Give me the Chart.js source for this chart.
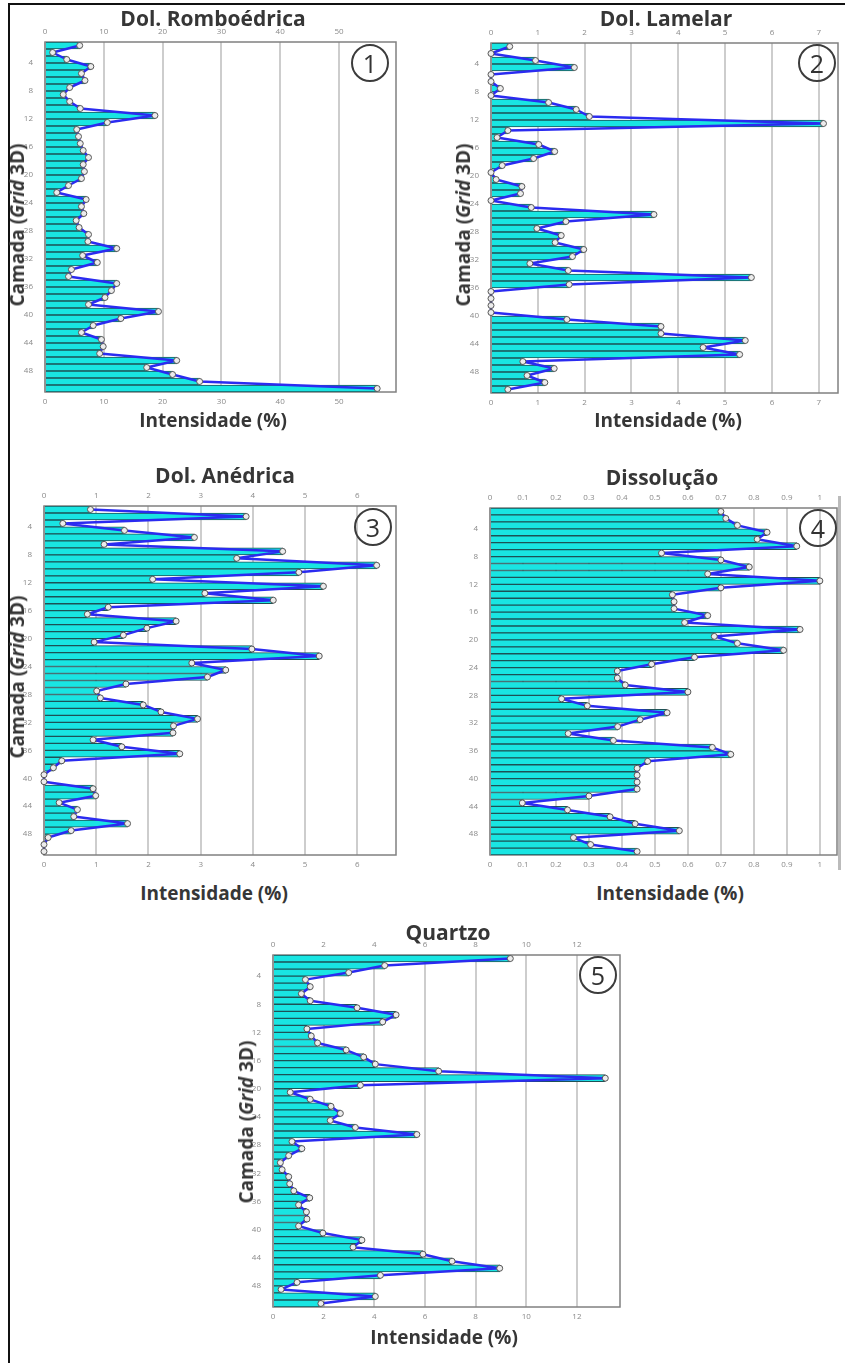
<!DOCTYPE html>
<html>
<head>
<meta charset="utf-8">
<script src="https://cdn.jsdelivr.net/npm/chart.js@4.4.0/dist/chart.umd.min.js"></script>
<style>
body { margin: 0; background: #fff; }
#page { position: relative; width: 845px; height: 1363px; overflow: hidden; font-family: "Open Sans", sans-serif; }
.txt { position: absolute; transform: translate(-50%, -50%); white-space: nowrap; font-weight: bold; color: #363636; }
.ytitle { transform: translate(-50%, -50%) rotate(-90deg); }
.num { position: absolute; width: 34px; height: 34px; border: 2px solid #3c3c3c; border-radius: 50%;
       transform: translate(-50%, -50%); font-size: 25px; line-height: 34px; text-align: center; color: #333; }
.line { position: absolute; }
</style>
</head>
<body>
<div id="page">
  <div class="line" style="left:8px;top:3px;width:837px;height:2px;background:#111"></div>
  <div class="line" style="left:8px;top:3px;width:2px;height:1360px;background:#111"></div>
  <div class="line" style="left:838px;top:496px;width:3px;height:374px;background:#bbb"></div>
</div>
<script>
// camadas do grid (limites das classes)
const layerTicks = [4, 8, 12, 16, 20, 24, 28, 32, 36, 40, 44, 48];

// intensidade (%) por camada, camada 1 no topo
const romboedrica = [5.9, 1.3, 3.7, 7.8, 6.2, 6.8, 4.2, 3.1, 4.2, 6.0,
  18.7, 10.6, 5.4, 5.7, 6.0, 6.5, 7.4, 6.5, 6.7, 6.2,
  4.0, 2.0, 7.0, 6.2, 6.6, 5.3, 5.8, 7.4, 7.3, 12.2,
  6.4, 8.9, 4.5, 4.0, 12.2, 11.3, 10.2, 7.4, 19.3, 12.9,
  8.2, 6.2, 9.6, 9.9, 9.3, 22.4, 17.3, 21.7, 26.3, 56.5];
const lamelar = [0.40, 0, 0.95, 1.78, 0, 0, 0.2, 0, 1.23, 1.82,
  2.1, 7.1, 0.36, 0.13, 1.02, 1.36, 0.91, 0.24, 0, 0.11,
  0.66, 0.63, 0, 0.86, 3.48, 1.60, 0.98, 1.50, 1.37, 1.98,
  1.74, 0.83, 1.65, 5.56, 1.67, 0, 0, 0, 0, 1.62,
  3.63, 3.63, 5.43, 4.53, 5.31, 0.68, 1.35, 0.77, 1.15, 0.36];
const anedrica = [0.89, 3.87, 0.36, 1.54, 2.88, 1.15, 4.57, 3.69, 6.37, 4.88,
  2.08, 5.35, 3.08, 4.39, 1.23, 0.83, 2.53, 1.97, 1.52, 0.96,
  3.98, 5.27, 2.83, 3.48, 3.13, 1.57, 1.01, 1.08, 1.90, 2.24,
  2.94, 2.48, 2.47, 0.94, 1.49, 2.60, 0.34, 0.18, 0, 0,
  0.94, 0.99, 0.29, 0.64, 0.57, 1.6, 0.52, 0.08, 0, 0];
const dissolucao = [0.70, 0.715, 0.75, 0.84, 0.81, 0.93, 0.52, 0.70, 0.786, 0.66,
  1.0, 0.70, 0.553, 0.558, 0.558, 0.66, 0.59, 0.94, 0.68, 0.75,
  0.89, 0.62, 0.49, 0.386, 0.386, 0.41, 0.60, 0.217, 0.295, 0.537,
  0.455, 0.387, 0.237, 0.374, 0.674, 0.73, 0.478, 0.446, 0.446, 0.446,
  0.446, 0.30, 0.098, 0.235, 0.364, 0.44, 0.574, 0.253, 0.305, 0.446];
const quartzo = [9.37, 4.41, 2.99, 1.28, 1.47, 1.12, 1.47, 3.32, 4.86, 4.33,
  1.34, 1.51, 1.76, 2.89, 3.58, 4.04, 6.54, 13.12, 3.45, 0.68,
  1.47, 2.29, 2.66, 2.26, 3.25, 5.68, 0.75, 1.14, 0.62, 0.29,
  0.36, 0.62, 0.66, 0.82, 1.45, 1.01, 1.32, 1.34, 1.01, 1.97,
  3.51, 3.16, 5.92, 7.07, 8.95, 4.24, 0.95, 0.32, 4.04, 1.89];

// rotulos do eixo de intensidade
const ticksRomb = [0, 10, 20, 30, 40, 50];
const ticksLam = [0, 1, 2, 3, 4, 5, 6, 7];
const ticksAned = [0, 1, 2, 3, 4, 5, 6];
const ticksDiss = [0, 0.1, 0.2, 0.3, 0.4, 0.5, 0.6, 0.7, 0.8, 0.9, 1];
const ticksQuartzo = [0, 2, 4, 6, 8, 10, 12];

const panels = [
  { title: "Dol. Romboédrica", values: romboedrica, ticks: ticksRomb, max: 59.7, n: 1,
    box: { l: 45, t: 42, w: 351, h: 350 }, tPos: [213, 18], xtPos: [213, 420], ytPos: [17, 225], nPos: [370, 63] },
  { title: "Dol. Lamelar", values: lamelar, ticks: ticksLam, max: 7.41, n: 2,
    box: { l: 491, t: 43, w: 347, h: 350 }, tPos: [666, 18], xtPos: [668, 420], ytPos: [463, 225], nPos: [817, 63] },
  { title: "Dol. Anédrica", values: anedrica, ticks: ticksAned, max: 6.74, n: 3,
    box: { l: 44, t: 506, w: 352, h: 349 }, tPos: [225, 475], xtPos: [214, 893], ytPos: [17, 677], nPos: [373, 527] },
  { title: "Dissolução", values: dissolucao, ticks: ticksDiss, max: 1.052, n: 4,
    box: { l: 490, t: 508, w: 347, h: 347 }, tPos: [662, 477], xtPos: [670, 893], ytPos: null, nPos: [818, 528] },
  { title: "Quartzo", values: quartzo, ticks: ticksQuartzo, max: 13.7, n: 5,
    box: { l: 273, t: 955, w: 347, h: 352 }, tPos: [448, 932], xtPos: [444, 1337], ytPos: [246, 1122], nPos: [598, 975] }
];

Chart.defaults.font.family = '"Open Sans", sans-serif';

const page = document.getElementById("page");

function addText(html, pos, size, extra) {
  const d = document.createElement("div");
  d.className = "txt" + (extra ? " " + extra : "");
  d.style.left = pos[0] + "px";
  d.style.top = pos[1] + "px";
  d.style.fontSize = size + "px";
  d.innerHTML = html;
  page.appendChild(d);
}

// moldura da area do grafico
const frame = {
  id: "frame",
  beforeDatasetsDraw(chart) {
    const { ctx, chartArea: a } = chart;
    ctx.save();
    ctx.strokeStyle = "#808080";
    ctx.lineWidth = 1.5;
    ctx.strokeRect(a.left, a.top, a.right - a.left, a.bottom - a.top);
    ctx.restore();
  }
};

function xAxis(p, pos) {
  return {
    type: "linear", position: pos, min: 0, max: p.max,
    afterBuildTicks: s => { s.ticks = p.ticks.map(v => ({ value: v })); },
    afterFit: s => { s.height = 18; },
    grid: { display: pos === "bottom", color: "#cdcdcd", lineWidth: 2, drawTicks: false },
    border: { display: false },
    ticks: { padding: 5, color: "#8a8a8a", font: { size: 8 }, maxRotation: 0, autoSkip: false, callback: v => String(v) }
  };
}

panels.forEach(p => {
  const W = p.box.w + 38, H = p.box.h + 36;
  const cv = document.createElement("canvas");
  cv.width = W;
  cv.height = H;
  cv.style.cssText = "position:absolute;left:" + (p.box.l - 32) + "px;top:" + (p.box.t - 18) + "px;width:" + W + "px;height:" + H + "px";
  page.appendChild(cv);

  const pts = p.values.map((v, i) => ({ x: v, y: i + 1.5 }));

  new Chart(cv, {
    type: "bar",
    data: {
      datasets: [
        { type: "line", data: pts, indexAxis: "y", order: 0, borderColor: "#2b2bf0", borderWidth: 2.5,
          borderJoinStyle: "round", pointRadius: 3, pointBackgroundColor: "#ececec", pointBorderColor: "#555",
          pointBorderWidth: 1, clip: 8 },
        { type: "bar", data: pts, order: 1, backgroundColor: "#19e5e2", borderColor: "#1d5256",
          borderWidth: { top: 1, bottom: 1, right: 1, left: 0 }, barPercentage: 1, categoryPercentage: 1 }
      ]
    },
    options: {
      indexAxis: "y",
      responsive: false,
      animation: false,
      events: [],
      layout: { padding: { left: 0, right: 6, top: 0, bottom: 0 } },
      plugins: { legend: { display: false }, tooltip: { enabled: false } },
      scales: {
        x: xAxis(p, "bottom"),
        x2: xAxis(p, "top"),
        y: {
          type: "linear", reverse: true, min: 1, max: 51, offset: false,
          afterBuildTicks: s => { s.ticks = layerTicks.map(v => ({ value: v })); },
          afterFit: s => { s.width = 32; },
          grid: { display: false, offset: false },
          border: { display: false },
          ticks: { padding: 4, color: "#8a8a8a", font: { size: 8 }, callback: v => String(v) }
        }
      }
    },
    plugins: [frame]
  });

  addText(p.title, p.tPos, 21);
  addText("Intensidade (%)", p.xtPos, 19);
  if (p.ytPos) addText("Camada (<i>Grid</i> 3D)", p.ytPos, 19, "ytitle");

  const c = document.createElement("div");
  c.className = "num";
  c.style.left = p.nPos[0] + "px";
  c.style.top = p.nPos[1] + "px";
  c.textContent = p.n;
  page.appendChild(c);
});
</script>
</body>
</html>
